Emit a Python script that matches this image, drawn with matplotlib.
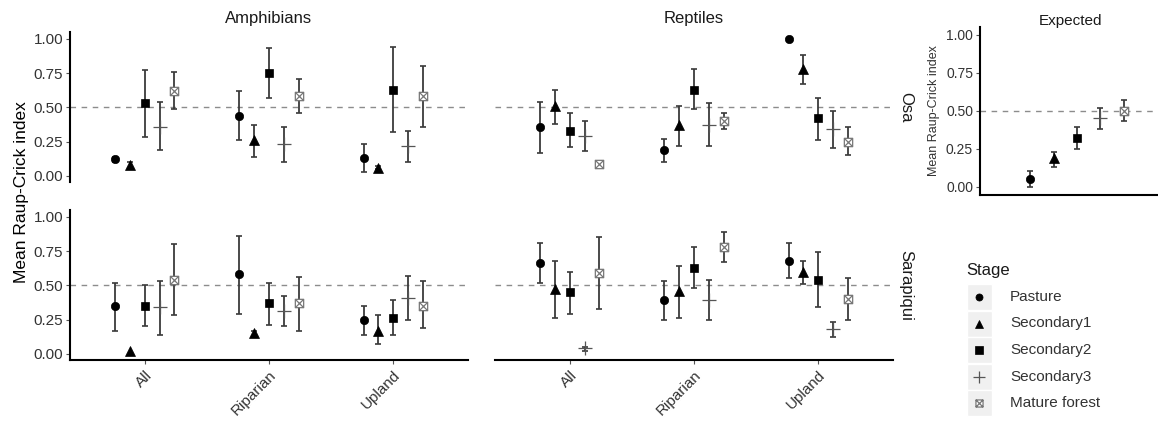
import numpy as np
import matplotlib
matplotlib.use("Agg")
import matplotlib.pyplot as plt
from matplotlib.path import Path

plt.rcParams['font.family'] = ['Liberation Sans', 'DejaVu Sans']

stages = ["Pasture", "Secondary1", "Secondary2", "Secondary3", "Mature forest"]
habitats = ["All", "Riparian", "Upland"]
taxa = ["Amphibians", "Reptiles"]
sites = ["Osa", "Sarapiqui"]

# rows = habitats (All, Riparian, Upland); columns = stages
amph_osa_mean = [[0.12, 0.08, 0.53, 0.36, 0.62], [0.44, 0.26, 0.75, 0.23, 0.58], [0.13, 0.06, 0.63, 0.22, 0.58]]
amph_osa_lo   = [[0.10, 0.06, 0.28, 0.19, 0.49], [0.26, 0.14, 0.57, 0.10, 0.46], [0.03, 0.05, 0.32, 0.10, 0.36]]
amph_osa_hi   = [[0.14, 0.10, 0.77, 0.54, 0.76], [0.62, 0.37, 0.93, 0.36, 0.71], [0.23, 0.07, 0.94, 0.33, 0.80]]

rept_osa_mean = [[0.36, 0.51, 0.33, 0.29, 0.09], [0.19, 0.37, 0.63, 0.37, 0.40], [1.00, 0.78, 0.42, 0.34, 0.25]]
rept_osa_lo   = [[0.17, 0.38, 0.21, 0.18, 0.07], [0.10, 0.22, 0.49, 0.22, 0.34], [1.00, 0.67, 0.26, 0.20, 0.15]]
rept_osa_hi   = [[0.54, 0.63, 0.46, 0.40, 0.11], [0.27, 0.51, 0.78, 0.53, 0.46], [1.00, 0.88, 0.57, 0.47, 0.36]]

amph_sar_mean = [[0.35, 0.02, 0.35, 0.34, 0.54], [0.58, 0.15, 0.37, 0.31, 0.37], [0.25, 0.17, 0.26, 0.41, 0.35]]
amph_sar_lo   = [[0.17, 0.02, 0.20, 0.14, 0.28], [0.29, 0.13, 0.21, 0.20, 0.17], [0.14, 0.07, 0.14, 0.25, 0.19]]
amph_sar_hi   = [[0.52, 0.02, 0.50, 0.53, 0.80], [0.86, 0.17, 0.52, 0.42, 0.56], [0.35, 0.28, 0.39, 0.57, 0.53]]

rept_sar_mean = [[0.66, 0.47, 0.45, 0.04, 0.59], [0.39, 0.46, 0.63, 0.39, 0.78], [0.68, 0.60, 0.54, 0.18, 0.40]]
rept_sar_lo   = [[0.52, 0.26, 0.29, 0.02, 0.33], [0.25, 0.26, 0.48, 0.25, 0.67], [0.55, 0.51, 0.34, 0.12, 0.25]]
rept_sar_hi   = [[0.81, 0.68, 0.60, 0.05, 0.85], [0.53, 0.64, 0.78, 0.54, 0.89], [0.81, 0.68, 0.74, 0.23, 0.55]]

exp_mean = [0.05, 0.19, 0.32, 0.45, 0.50]
exp_lo   = [0.00, 0.13, 0.25, 0.38, 0.43]
exp_hi   = [0.10, 0.23, 0.39, 0.52, 0.57]

yticks = [0.0, 0.25, 0.5, 0.75, 1.0]
ytick_labels = ["0.00", "0.25", "0.50", "0.75", "1.00"]

# marker styling
boxx = Path([(-1, -1), (1, -1), (1, 1), (-1, 1), (-1, -1), (-1, -1), (1, 1), (-1, 1), (1, -1)],
            [Path.MOVETO, Path.LINETO, Path.LINETO, Path.LINETO, Path.CLOSEPOLY,
             Path.MOVETO, Path.LINETO, Path.MOVETO, Path.LINETO])
mstyle = {
    "Pasture": dict(marker='o', ms=6.0, mfc='black', mec='black', mew=0.5),
    "Secondary1": dict(marker='^', ms=7.0, mfc='black', mec='black', mew=0.5),
    "Secondary2": dict(marker='s', ms=6.3, mfc='black', mec='black', mew=0.5),
    "Secondary3": dict(marker='+', ms=10, mfc='none', mec='#555555', mew=0.9),
    "Mature forest": dict(marker=boxx, ms=6.0, mfc='white', mec='#777777', mew=0.9),
}
offsets = [-0.24, -0.12, 0.0, 0.12, 0.24]
ecol = '#3a3a3a'

W, H = 1158, 426
fig = plt.figure(figsize=(W / 100, H / 100), dpi=100)

def add_ax(x0, x1, ytop, ybot):
    return fig.add_axes([x0 / W, 1 - ybot / H, (x1 - x0) / W, (ybot - ytop) / H])

def draw_group(ax, x, means, los, his, ms_scale=1.0):
    for k, st in enumerate(stages):
        m, lo, hi = means[k], los[k], his[k]
        xx = x + offsets[k]
        if hi > lo:
            ax.errorbar([xx], [m], yerr=[[m - lo], [hi - m]], fmt='none', ecolor=ecol,
                        elinewidth=1.3, capsize=2.3, capthick=1.2, zorder=2)
        st_ = dict(mstyle[st])
        st_['ms'] = st_['ms'] * ms_scale
        ax.plot([xx], [m], linestyle='none', zorder=3, **st_)

panels = {
    (0, 0): (amph_osa_mean, amph_osa_lo, amph_osa_hi),
    (0, 1): (rept_osa_mean, rept_osa_lo, rept_osa_hi),
    (1, 0): (amph_sar_mean, amph_sar_lo, amph_sar_hi),
    (1, 1): (rept_sar_mean, rept_sar_lo, rept_sar_hi),
}
col_x = [(70, 468), (495, 893)]
row_y = [(32, 182), (210, 360)]

for (r, c), (mn, lo, hi) in panels.items():
    ax = add_ax(col_x[c][0], col_x[c][1], row_y[r][0], row_y[r][1])
    ax.axhline(0.5, color='#8c8c8c', lw=1.0, ls=(0, (4, 4)), zorder=1)
    for h in range(len(habitats)):
        draw_group(ax, h + 1, mn[h], lo[h], hi[h])
    ax.set_xlim(0.4, 3.6)
    ax.set_ylim(-0.045, 1.05)
    for s in ['top', 'right']:
        ax.spines[s].set_visible(False)
    ax.spines['left'].set_visible(c == 0)
    ax.spines['bottom'].set_visible(r == 1)
    for s in ['left', 'bottom']:
        ax.spines[s].set_linewidth(1.5)
        ax.spines[s].set_color('black')
    ax.set_yticks(yticks)
    ax.set_xticks(range(1, len(habitats) + 1))
    if c == 0:
        ax.set_yticklabels(ytick_labels, fontsize=11, color='#333333')
        ax.tick_params(axis='y', length=3, width=0.8, color='#555555', pad=2)
    else:
        ax.tick_params(axis='y', left=False, labelleft=False)
    if r == 1:
        ax.set_xticklabels(habitats, fontsize=11, color='#333333', rotation=45,
                           ha='right', va='top', rotation_mode='anchor')
        ax.tick_params(axis='x', length=3, width=0.8, color='#555555', pad=3)
    else:
        ax.tick_params(axis='x', bottom=False, labelbottom=False)
    ax.patch.set_alpha(0)

# strip labels
for c, t in enumerate(taxa):
    fig.text((col_x[c][0] + col_x[c][1]) / 2 / W, 1 - 18 / H, t, ha='center', va='center',
             fontsize=12, color='#1a1a1a')
for r, s in enumerate(sites):
    fig.text(906 / W, 1 - (row_y[r][0] + row_y[r][1]) / 2 / H, s, ha='center', va='center',
             rotation=-90, fontsize=12, color='#1a1a1a')
fig.text(22 / W, 1 - 192 / H, "Mean Raup-Crick index", rotation=90, ha='center', va='center',
         fontsize=12.5, color='black')

# Expected panel
axe = add_ax(980, 1158, 27, 195)
axe.axhline(0.5, color='#8c8c8c', lw=1.0, ls=(0, (4, 4)), zorder=1)
draw_group(axe, 1, exp_mean, exp_lo, exp_hi)
axe.set_xlim(0.5, 1.417)
axe.set_ylim(-0.055, 1.05)
for s in ['top', 'right']:
    axe.spines[s].set_visible(False)
for s in ['left', 'bottom']:
    axe.spines[s].set_linewidth(1.5)
axe.set_xticks([])
axe.set_yticks(yticks)
axe.set_yticklabels(ytick_labels, fontsize=10, color='#333333')
axe.tick_params(axis='y', length=3, width=0.8, color='#555555', pad=2)
axe.set_ylabel("Mean Raup-Crick index", fontsize=9, color='#333333', labelpad=4)
axe.patch.set_alpha(0)
fig.text(1070 / W, 1 - 21 / H, "Expected", ha='center', va='center', fontsize=11, color='#1a1a1a')

# Legend (manual, ggplot-like)
axl = fig.add_axes([955 / W, 1 - 420 / H, 200 / W, 165 / H])
axl.set_xlim(955, 1155)
axl.set_ylim(420, 255)
axl.axis('off')
axl.text(966, 271, "Stage", fontsize=12, ha='left', va='center', color='#1a1a1a')
for k, st in enumerate(stages):
    yc = 297 + k * 26.5
    axl.add_patch(plt.Rectangle((967, yc - 13), 25, 26, facecolor='#f0f0f0', edgecolor='white', lw=1))
    stl = dict(mstyle[st])
    stl['ms'] = stl['ms'] * 0.85
    axl.plot([979.5], [yc], linestyle='none', **stl)
    axl.text(1010, yc, st, fontsize=11, ha='left', va='center', color='#333333')

fig.savefig("out.png", dpi=100)
